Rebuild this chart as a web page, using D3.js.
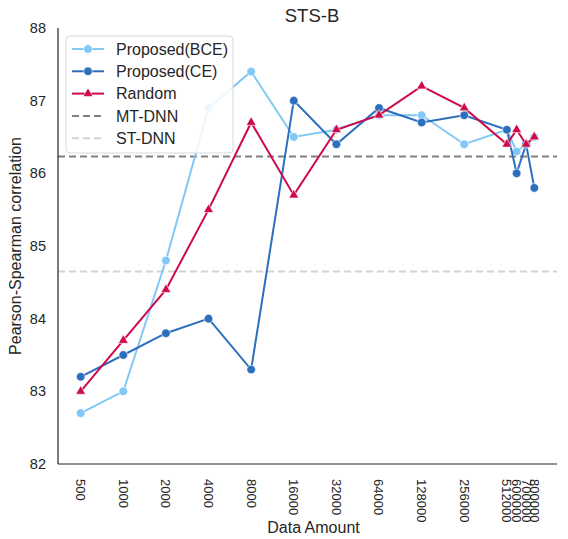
<!DOCTYPE html>
<html>
<head>
<meta charset="utf-8">
<script src="https://cdn.jsdelivr.net/npm/d3@7"></script>
<style>
  body { margin: 0; background: #fff; }
  text { font-family: "Liberation Sans", Arial, sans-serif; fill: #262626; }
</style>
</head>
<body>
<div id="chart"></div>
<script>
const width = 568;
const height = 539;
const margin = { top: 28, right: 11, bottom: 75, left: 58 };

const amounts = [500, 1000, 2000, 4000, 8000, 16000, 32000, 64000, 128000, 256000, 512000, 600000, 700000, 800000];
const bce = [82.7, 83.0, 84.8, 86.9, 87.4, 86.5, 86.6, 86.8, 86.8, 86.4, 86.6, 86.3, 86.4, 86.5];
const ce = [83.2, 83.5, 83.8, 84.0, 83.3, 87.0, 86.4, 86.9, 86.7, 86.8, 86.6, 86.0, 86.4, 85.8];
const random = [83.0, 83.7, 84.4, 85.5, 86.7, 85.7, 86.6, 86.8, 87.2, 86.9, 86.4, 86.6, 86.4, 86.5];
const mtDnn = 86.23;
const stDnn = 84.65;
const yTicks = [82, 83, 84, 85, 86, 87, 88];

const series = [
  { name: "Proposed(BCE)", values: bce, color: "#82c8f6", marker: "circle" },
  { name: "Proposed(CE)", values: ce, color: "#2c6fbd", marker: "circle" },
  { name: "Random", values: random, color: "#cf0a4b", marker: "triangle" },
];

const svg = d3.select("#chart").append("svg")
  .attr("width", width).attr("height", height);

const iw = width - margin.left - margin.right;
const ih = height - margin.top - margin.bottom;
const g = svg.append("g").attr("transform", `translate(${margin.left},${margin.top})`);

// log x-axis with 5% margins like matplotlib
const lmin = Math.log2(d3.min(amounts)), lmax = Math.log2(d3.max(amounts));
const pad = (lmax - lmin) * 0.05;
const x = d3.scaleLog().base(2)
  .domain([Math.pow(2, lmin - pad), Math.pow(2, lmax + pad)])
  .range([0, iw]);
const y = d3.scaleLinear().domain([82, 88]).range([ih, 0]);

// reference lines
g.append("line")
  .attr("x1", 0).attr("x2", iw)
  .attr("y1", y(mtDnn)).attr("y2", y(mtDnn))
  .attr("stroke", "#808080").attr("stroke-width", 2).attr("stroke-dasharray", "7,4");
g.append("line")
  .attr("x1", 0).attr("x2", iw)
  .attr("y1", y(stDnn)).attr("y2", y(stDnn))
  .attr("stroke", "#d3d3d3").attr("stroke-width", 2).attr("stroke-dasharray", "7,4");

const line = d3.line()
  .x((d, i) => x(amounts[i]))
  .y(d => y(d));

const triangle = d3.symbol().type(d3.symbolTriangle).size(42);

series.forEach(s => {
  g.append("path")
    .attr("d", line(s.values))
    .attr("fill", "none")
    .attr("stroke", s.color)
    .attr("stroke-width", 2);
  const pts = g.append("g");
  s.values.forEach((v, i) => {
    if (s.marker === "circle") {
      pts.append("circle")
        .attr("cx", x(amounts[i])).attr("cy", y(v)).attr("r", 4.3)
        .attr("fill", s.color).attr("stroke", "#fff").attr("stroke-width", 0.6);
    } else {
      pts.append("path")
        .attr("d", triangle())
        .attr("transform", `translate(${x(amounts[i])},${y(v)})`)
        .attr("fill", s.color).attr("stroke", "#fff").attr("stroke-width", 0.6);
    }
  });
});

// spines
g.append("line").attr("x1", 0).attr("x2", 0).attr("y1", 0).attr("y2", ih)
  .attr("stroke", "#262626").attr("stroke-width", 1.2);
g.append("line").attr("x1", 0).attr("x2", iw).attr("y1", ih).attr("y2", ih)
  .attr("stroke", "#262626").attr("stroke-width", 1.2);

// y tick labels
g.selectAll(".ytick").data(yTicks).join("text")
  .attr("x", -12).attr("y", d => y(d)).attr("dy", "0.35em")
  .attr("text-anchor", "end").attr("font-size", 14.5)
  .text(d => d);

// x tick labels, rotated
g.selectAll(".xtick").data(amounts).join("text")
  .attr("transform", d => `translate(${x(d)},${ih + 15}) rotate(90)`)
  .attr("dy", "0.35em")
  .attr("text-anchor", "start").attr("font-size", 13)
  .text(d => d);

// axis titles
svg.append("text")
  .attr("x", margin.left + iw / 2 + 6).attr("y", 533)
  .attr("text-anchor", "middle").attr("font-size", 16)
  .text("Data Amount");
svg.append("text")
  .attr("transform", `translate(21,${margin.top + ih / 2}) rotate(-90)`)
  .attr("text-anchor", "middle").attr("font-size", 16)
  .text("Pearson-Spearman correlation");
svg.append("text")
  .attr("x", 312).attr("y", 22)
  .attr("text-anchor", "middle").attr("font-size", 18.5)
  .text("STS-B");

// legend
const legendItems = [
  { name: "Proposed(BCE)", color: "#82c8f6", type: "circle" },
  { name: "Proposed(CE)", color: "#2c6fbd", type: "circle" },
  { name: "Random", color: "#cf0a4b", type: "triangle" },
  { name: "MT-DNN", color: "#808080", type: "dash" },
  { name: "ST-DNN", color: "#d3d3d3", type: "dash" },
];
const lg = svg.append("g").attr("transform", "translate(66,36)");
lg.append("rect")
  .attr("width", 167).attr("height", 117).attr("rx", 4)
  .attr("fill", "#fff").attr("fill-opacity", 0.85)
  .attr("stroke", "#d9d9d9").attr("stroke-width", 1);
legendItems.forEach((it, i) => {
  const ly = 13 + i * 22.3;
  const row = lg.append("g").attr("transform", `translate(0,${ly})`);
  row.append("line")
    .attr("x1", 6).attr("x2", 38)
    .attr("stroke", it.color).attr("stroke-width", 2)
    .attr("stroke-dasharray", it.type === "dash" ? "7,4" : null);
  if (it.type === "circle") {
    row.append("circle").attr("cx", 22).attr("r", 4.3)
      .attr("fill", it.color).attr("stroke", "#fff").attr("stroke-width", 0.6);
  } else if (it.type === "triangle") {
    row.append("path").attr("d", triangle()).attr("transform", "translate(22,0)")
      .attr("fill", it.color).attr("stroke", "#fff").attr("stroke-width", 0.6);
  }
  row.append("text").attr("x", 50).attr("dy", "0.35em")
    .attr("font-size", 16).text(it.name);
});
</script>
</body>
</html>
